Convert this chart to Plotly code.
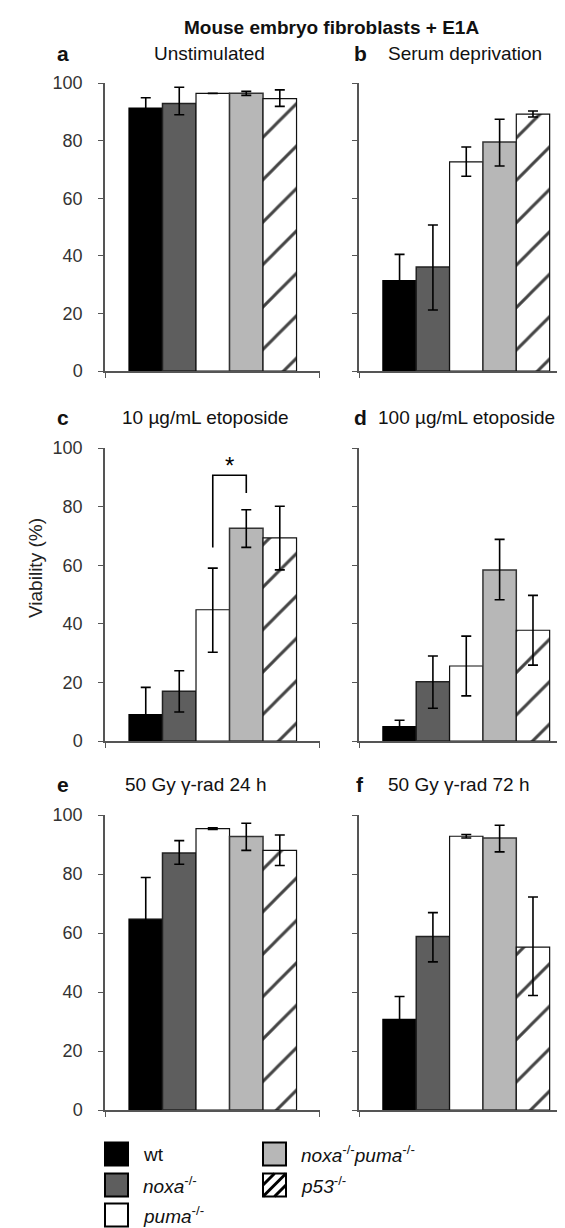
import plotly.graph_objects as go

# ---------------- data ----------------
genotypes = ["wt", "noxa-/-", "puma-/-", "noxa-/-puma-/-", "p53-/-"]
legend_labels = ["wt", "<i>noxa</i><sup>-/-</sup>", "<i>puma</i><sup>-/-</sup>",
                 "<i>noxa</i><sup>-/-</sup><i>puma</i><sup>-/-</sup>", "<i>p53</i><sup>-/-</sup>"]
panel_letters = ["a", "b", "c", "d", "e", "f"]
panel_titles = ["Unstimulated", "Serum deprivation", "10 \u00b5g/mL etoposide",
                "100 \u00b5g/mL etoposide", "50 Gy \u03b3-rad 24 h", "50 Gy \u03b3-rad 72 h"]
y_ticks = [0, 20, 40, 60, 80, 100]

viab_a = [91.3, 92.9, 96.4, 96.4, 94.6]
err_up_a = [3.6, 5.6, 0.0, 0.7, 3.0]
err_dn_a = [3.6, 3.9, 0.0, 0.7, 2.7]

viab_b = [31.4, 36.1, 72.6, 79.5, 89.2]
err_up_b = [9.1, 14.6, 5.2, 7.9, 1.1]
err_dn_b = [9.1, 14.9, 5.0, 8.3, 1.0]

viab_c = [9.0, 17.0, 44.8, 72.6, 69.3]
err_up_c = [9.3, 7.0, 14.2, 6.3, 10.8]
err_dn_c = [9.0, 7.1, 14.5, 6.5, 10.9]

viab_d = [4.9, 20.2, 25.6, 58.4, 37.8]
err_up_d = [2.2, 8.8, 10.2, 10.4, 11.9]
err_dn_d = [2.2, 9.0, 10.2, 10.2, 11.9]

viab_e = [64.7, 87.1, 95.4, 92.7, 88.0]
err_up_e = [14.1, 4.2, 0.3, 4.5, 5.2]
err_dn_e = [14.1, 3.8, 0.3, 4.7, 5.1]

viab_f = [30.7, 58.8, 92.8, 92.2, 55.2]
err_up_f = [7.8, 8.1, 0.6, 4.3, 17.0]
err_dn_f = [7.8, 8.6, 0.6, 4.7, 16.4]

# significance bracket in panel c (between puma-/- and noxa-/-puma-/-)
sig_pair = [2, 3]
sig_levels = [66.0, 90.7, 84.6]
sig_star_y = 94.0

values = [viab_a, viab_b, viab_c, viab_d, viab_e, viab_f]
errs_up = [err_up_a, err_up_b, err_up_c, err_up_d, err_up_e, err_up_f]
errs_dn = [err_dn_a, err_dn_b, err_dn_c, err_dn_d, err_dn_e, err_dn_f]

# ---------------- style ----------------
W, H = 565, 1228
FONT = "Liberation Sans, Arial, Helvetica, sans-serif"
fill_colors = ["#000000", "#5e5e5e", "#ffffff", "#b7b7b7", "#ffffff"]
line_colors = ["#000000", "#222222", "#111111", "#333333", "#111111"]
line_widths = [1.2, 1.5, 1.2, 1.5, 1.2]
pattern_shapes = ["", "", "", "", "/"]

def px_x(x):
    return x / W

def px_y(y):
    return 1 - y / H

col_x = [(97, 312), (351, 565)]
row_y = [(75, 363), (440, 733), (807, 1102)]
xmin, xmax = -1.216, 5.2

fig = go.Figure()
xcat = list(range(len(genotypes)))

for p in range(6):
    r, c = divmod(p, 2)
    ax = "" if p == 0 else str(p + 1)
    fig.add_trace(go.Bar(
        x=xcat, y=values[p], width=1.0,
        xaxis="x" + ax, yaxis="y" + ax,
        marker=dict(color=fill_colors,
                    line=dict(color=line_colors, width=line_widths),
                    pattern=dict(shape=pattern_shapes, fgcolor="#000000", bgcolor="#ffffff",
                                 fgopacity=1.0, size=30, solidity=0.1, fillmode="overlay")),
        error_y=dict(type="data", symmetric=False, array=errs_up[p], arrayminus=errs_dn[p],
                     color="#000000", thickness=1.6, width=5),
        showlegend=False, hoverinfo="skip",
    ))
    x0, x1 = col_x[c]
    y0, y1 = row_y[r]
    fig.layout["xaxis" + ax] = dict(
        domain=[px_x(x0), min(px_x(x1), 1.0)], range=[xmin, xmax], anchor="y" + ax,
        showline=True, linecolor="#555555", linewidth=1.5,
        tickvals=[xmin + 0.005, xmax - 0.005], ticks="outside", ticklen=5, tickwidth=1.3,
        tickcolor="#555555", showticklabels=False, showgrid=False, zeroline=False,
        fixedrange=True,
    )
    fig.layout["yaxis" + ax] = dict(
        domain=[px_y(y1), px_y(y0)], range=[0, 100], anchor="x" + ax,
        showline=True, linecolor="#555555", linewidth=1.5,
        tickvals=y_ticks, ticks="outside", ticklen=5, tickwidth=1.3, tickcolor="#555555",
        showticklabels=(c == 0), ticklabelstandoff=12,
        tickfont=dict(family=FONT, size=18, color="#333333"),
        showgrid=False, zeroline=False, automargin=False, fixedrange=True,
    )

# significance bracket (panel c)
fig.add_trace(go.Scatter(
    x=[sig_pair[0], sig_pair[0], sig_pair[1], sig_pair[1]],
    y=[sig_levels[0], sig_levels[1], sig_levels[1], sig_levels[2]],
    mode="lines", line=dict(color="#000000", width=1.6),
    xaxis="x3", yaxis="y3", showlegend=False, hoverinfo="skip",
))

annotations = []
annotations.append(dict(x=(sig_pair[0] + sig_pair[1]) / 2, y=sig_star_y, xref="x3", yref="y3",
                        text="*", showarrow=False, font=dict(family=FONT, size=24, color="#000")))

# figure title
annotations.append(dict(x=px_x(323), y=px_y(19), xref="paper", yref="paper",
                        text="<b>Mouse embryo fibroblasts + E1A</b>", showarrow=False,
                        xanchor="center", yanchor="middle",
                        font=dict(family=FONT, size=19, color="#111")))

# panel letters and titles
letter_x = [55, 352]
title_x = [(201, "center"), (378, "left"), (112, "left"), (368, "left"), (115, "left"), (378, "left")]
title_rows_y = [45, 410, 777]
for p in range(6):
    r, c = divmod(p, 2)
    annotations.append(dict(x=px_x(letter_x[c]), y=px_y(title_rows_y[r]), xref="paper", yref="paper",
                            text="<b>" + panel_letters[p] + "</b>", showarrow=False,
                            xanchor="center", yanchor="middle",
                            font=dict(family=FONT, size=21, color="#111")))
    tx, anc = title_x[p]
    annotations.append(dict(x=px_x(tx), y=px_y(title_rows_y[r]), xref="paper", yref="paper",
                            text=panel_titles[p], showarrow=False,
                            xanchor=anc, yanchor="middle",
                            font=dict(family=FONT, size=19, color="#111")))

# y axis title
annotations.append(dict(x=px_x(27), y=px_y(560), xref="paper", yref="paper",
                        text="Viability (%)", textangle=-90, showarrow=False,
                        xanchor="center", yanchor="middle",
                        font=dict(family=FONT, size=19, color="#222")))

# legend (drawn from the genotype lists)
shapes = []
sw = 23
leg_col_x = [97, 255]
leg_row_y = [1146, 1177, 1207]
for i, lab in enumerate(legend_labels):
    c = 0 if i < 3 else 1
    r = i if i < 3 else i - 3
    x0 = leg_col_x[c]
    yc = leg_row_y[r]
    ya, yb = yc - sw / 2, yc + sw / 2
    shapes.append(dict(type="rect", xref="paper", yref="paper",
                       x0=px_x(x0), x1=px_x(x0 + sw), y0=px_y(yb), y1=px_y(ya),
                       fillcolor=fill_colors[i], line=dict(color="#000000", width=2)))
    if pattern_shapes[i] == "/":
        for (ax0, ay0, ax1, ay1) in [(0, 0, sw, sw), (0, sw / 2, sw / 2, sw), (sw / 2, 0, sw, sw / 2)]:
            shapes.append(dict(type="line", xref="paper", yref="paper",
                               x0=px_x(x0 + ax0), y0=px_y(yb - ay0),
                               x1=px_x(x0 + ax1), y1=px_y(yb - ay1),
                               line=dict(color="#000000", width=3)))
    annotations.append(dict(x=px_x(x0 + sw + 13), y=px_y(yc), xref="paper", yref="paper",
                            text=lab, showarrow=False, xanchor="left", yanchor="middle",
                            font=dict(family=FONT, size=19, color="#111")))

fig.update_layout(
    width=W, height=H,
    margin=dict(l=0, r=0, t=0, b=0),
    paper_bgcolor="#ffffff", plot_bgcolor="rgba(0,0,0,0)",
    annotations=annotations, shapes=shapes,
    showlegend=False, barmode="overlay",
)

fig.write_html("out.html")
